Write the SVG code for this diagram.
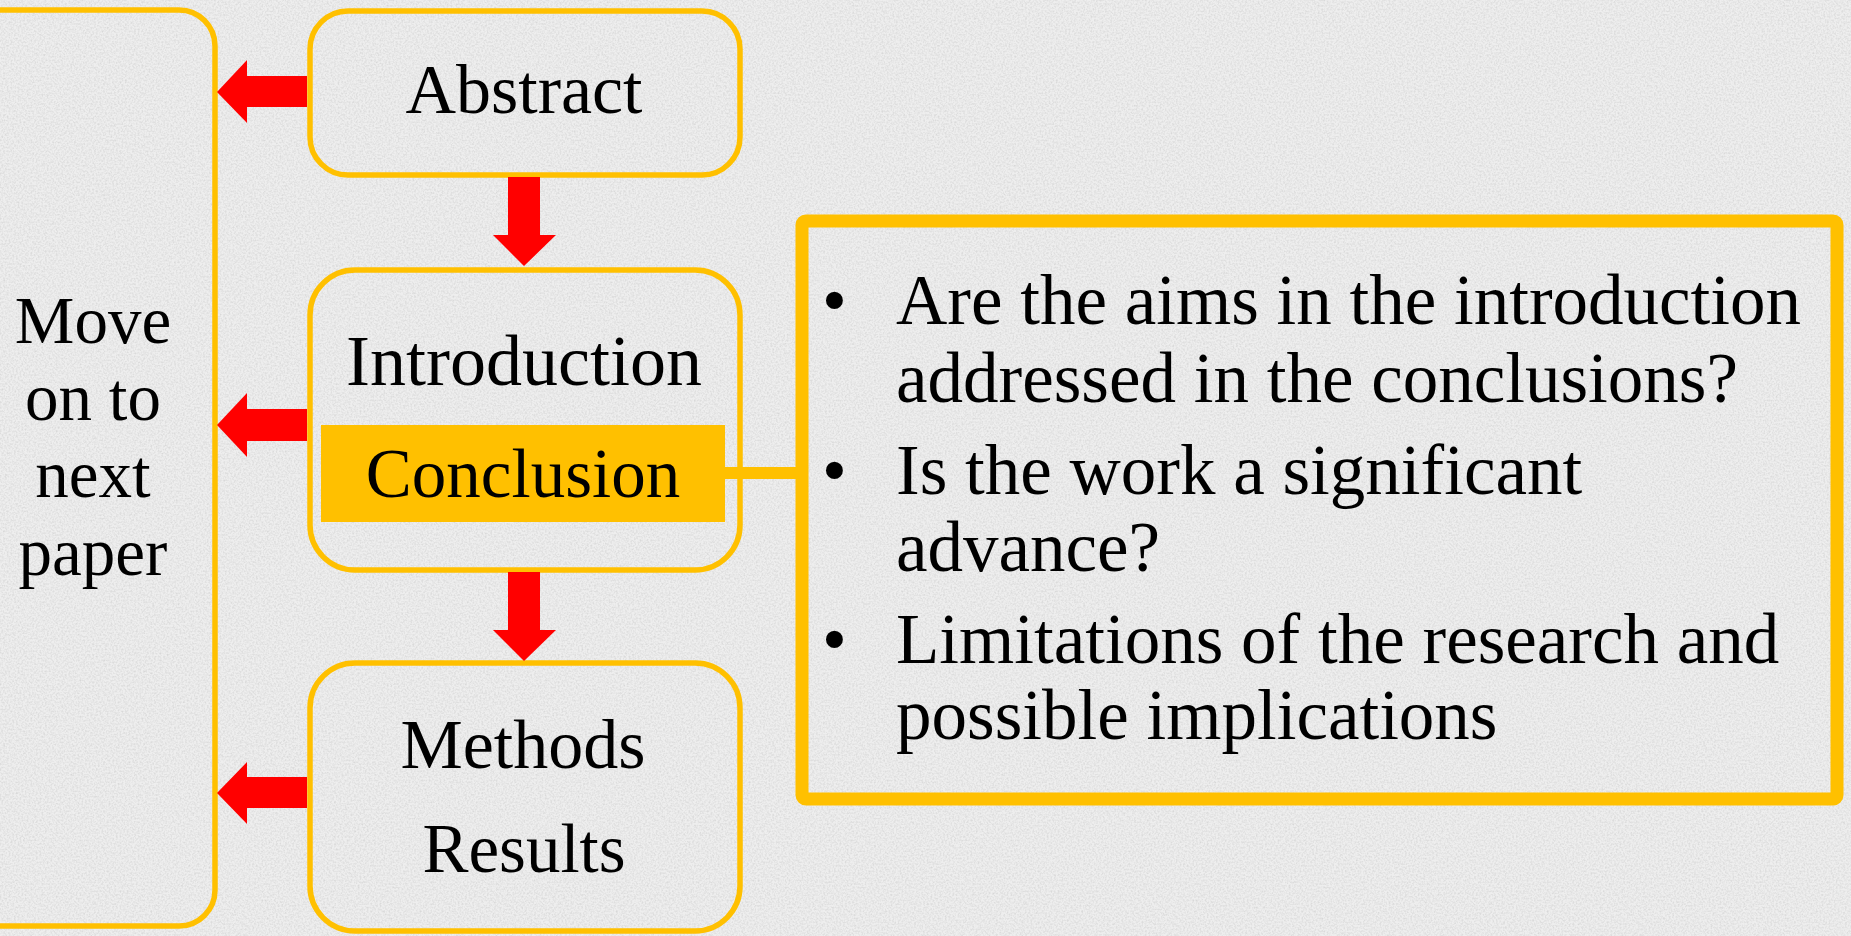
<svg xmlns="http://www.w3.org/2000/svg" width="1851" height="936" viewBox="0 0 1851 936">
<defs>
<style>
.box{fill:none;stroke:#FFC000;stroke-width:5.5}
.arrow{fill:#FF0000;stroke:none}
.t{font-family:"Liberation Serif","Times New Roman",serif;font-size:69px;fill:#000}
.b{font-size:71px}
.m{font-size:67px}
.c{text-anchor:middle}
</style>
<filter id="noise" x="0" y="0" width="100%" height="100%">
<feTurbulence type="fractalNoise" baseFrequency="0.55" numOctaves="2" seed="3" result="n"/>
<feColorMatrix in="n" type="matrix" values="0 0 0 0 0.6  0 0 0 0 0.6  0 0 0 0 0.6  0 0 0 -2 1.25"/>
</filter>
</defs>
<rect x="0" y="0" width="1851" height="936" fill="#eeeeee"/>
<rect x="0" y="0" width="1851" height="936" filter="url(#noise)" opacity="0.6"/>

<g id="next-paper">
<rect class="box" x="-40" y="10" width="255" height="916" rx="36"/>
<text class="t c m" x="93" y="343">Move</text>
<text class="t c m" x="93" y="420">on to</text>
<text class="t c m" x="93" y="497">next</text>
<text class="t c m" x="93" y="575">paper</text>
</g>

<g id="abstract">
<rect class="box" x="310" y="11" width="430" height="164" rx="38"/>
<text class="t c" x="524" y="113" style="font-size:70px">Abstract</text>
</g>

<g id="intro-conclusion">
<rect class="box" x="310" y="270" width="430" height="300" rx="45"/>
<text class="t c" x="524" y="385" style="font-size:72px">Introduction</text>
<rect x="321" y="425" width="404" height="97" fill="#FFC000"/>
<text class="t c" x="523" y="497">Conclusion</text>
</g>

<g id="methods-results">
<rect class="box" x="310" y="663" width="430" height="268" rx="45"/>
<text class="t c" x="523" y="768" style="font-size:70px">Methods</text>
<text class="t c" x="524" y="872">Results</text>
</g>

<g id="questions">
<rect x="802" y="221" width="1035" height="578" rx="4" fill="none" stroke="#FFC000" stroke-width="13"/>
<text class="t b" x="822" y="324">•</text>
<text class="t b" x="896" y="324">Are the aims in the introduction</text>
<text class="t b" x="896" y="402">addressed in the conclusions?</text>
<text class="t b" x="822" y="494">•</text>
<text class="t b" x="896" y="494">Is the work a significant</text>
<text class="t b" x="896" y="571">advance?</text>
<text class="t b" x="822" y="663">•</text>
<text class="t b" x="896" y="663">Limitations of the research and</text>
<text class="t b" x="896" y="739">possible implications</text>
</g>

<g id="connectors">
<polygon class="arrow" points="307,76 247,76 247,60 217,92 247,123 247,107 307,107"/>
<polygon class="arrow" points="307,409 247,409 247,393 217,425 247,457 247,441 307,441"/>
<polygon class="arrow" points="307,777 247,777 247,762 217,793 247,824 247,808 307,808"/>
<polygon class="arrow" points="508,177 540,177 540,235 556,235 524,266 493,235 508,235"/>
<polygon class="arrow" points="508,572 540,572 540,630 556,630 524,661 493,630 508,630"/>
<line x1="724" y1="473" x2="802" y2="473" stroke="#FFC000" stroke-width="12"/>
</g>
</svg>
